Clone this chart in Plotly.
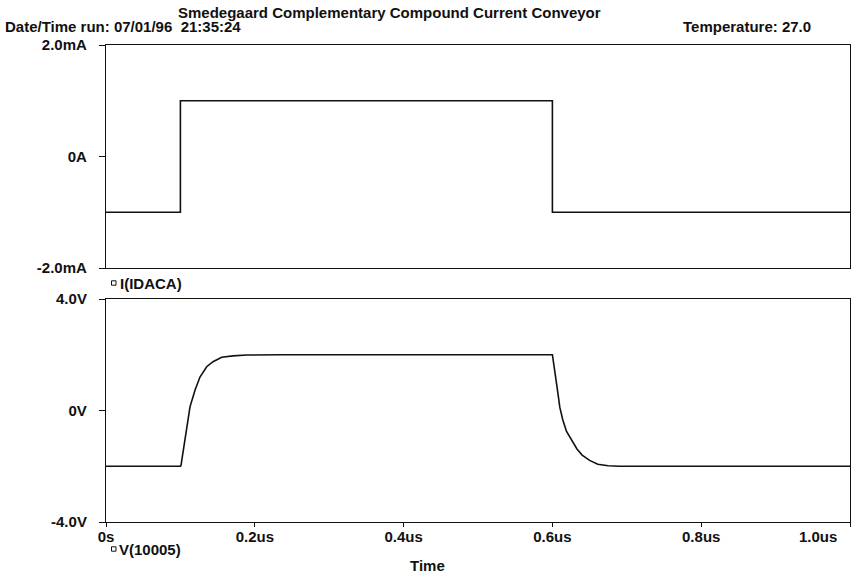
import plotly.graph_objects as go

# ---------------- data ----------------
# current source I(IDACA), mA, step shape (hv)
t_i = [0.0, 0.1, 0.6, 1.0]
i_ma = [-1.0, 1.0, -1.0, -1.0]

# output voltage V(10005)
t_v = [0.0, 0.100, 0.1008, 0.1062, 0.1129, 0.1196, 0.1263, 0.1353, 0.1438,
       0.1555, 0.1707, 0.189, 0.234, 0.600, 0.6035, 0.6065, 0.610, 0.614,
       0.619, 0.626, 0.633, 0.640, 0.650, 0.661, 0.675, 0.690, 1.0]
v_v = [-2.0, -2.0, -1.97, -0.95, 0.13, 0.73, 1.20, 1.57, 1.75,
       1.91, 1.96, 1.99, 2.0, 2.0, 1.43, 0.79, 0.11, -0.34,
       -0.75, -1.07, -1.38, -1.60, -1.79, -1.93, -1.98, -2.0, -2.0]

x_tick_vals = [0, 0.2, 0.4, 0.6, 0.8, 1.0]
x_tick_text = ["0s", "0.2us", "0.4us", "0.6us", "0.8us", "1.0us"]
i_tick_vals = [-2, 0, 2]
i_tick_text = ["-2.0mA", "0A", "2.0mA"]
v_tick_vals = [-4, 0, 4]
v_tick_text = ["-4.0V", "0V", "4.0V"]

title_text = "Smedegaard Complementary Compound Current Conveyor"
date_text = "Date/Time run: 07/01/96  21:35:24"
temp_text = "Temperature: 27.0"
trace_names = ["I(IDACA)", "V(10005)"]
x_title = "Time"

# ---------------- layout geometry ----------------
W, H = 855, 578
L, R, T, B = 106, 5, 45, 56
PW, PH = W - L - R, H - T - B


def px(x):
    return (x - L) / PW


def py(y):
    return (H - B - y) / PH


FONT = dict(family="Liberation Sans, Arial, sans-serif", size=15, color="#111111",
            weight="bold")
INK = "#111111"

fig = go.Figure()
fig.add_trace(go.Scatter(x=t_i, y=i_ma, mode="lines", line=dict(color=INK, width=1.6, shape="hv"),
                         xaxis="x", yaxis="y", name=trace_names[0], showlegend=False))
fig.add_trace(go.Scatter(x=t_v, y=v_v, mode="lines", line=dict(color=INK, width=1.6),
                         xaxis="x2", yaxis="y2", name=trace_names[1], showlegend=False))

axis_common = dict(showline=True, linecolor=INK, linewidth=1.2, mirror=True,
                   showgrid=False, zeroline=False, tickfont=FONT)

top_dom = [py(268), 1.0]
bot_dom = [0.0, py(299)]

x_text_shown = x_tick_text[:-1] + [""]

fig.update_layout(
    width=W, height=H,
    margin=dict(l=L, r=R, t=T, b=B),
    paper_bgcolor="white", plot_bgcolor="white",
    font=FONT,
    xaxis=dict(domain=[0, 1], range=[0, 1.0], anchor="y", showticklabels=False,
               ticks="", **axis_common),
    yaxis=dict(domain=top_dom, range=[-2, 2], anchor="x", tickmode="array",
               tickvals=i_tick_vals, ticktext=i_tick_text, ticks="outside",
               ticklen=6, tickcolor=INK, ticklabelstandoff=9, **axis_common),
    xaxis2=dict(domain=[0, 1], range=[0, 1.0], anchor="y2", matches="x",
                tickmode="array", tickvals=x_tick_vals, ticktext=x_text_shown,
                ticks="outside", ticklen=4, tickcolor=INK, ticklabelstandoff=-3,
                **axis_common),
    yaxis2=dict(domain=bot_dom, range=[-4, 4], anchor="x2", tickmode="array",
                tickvals=v_tick_vals, ticktext=v_tick_text, ticks="outside",
                ticklen=6, tickcolor=INK, ticklabelstandoff=9, **axis_common),
)

ann = []
ann.append(dict(text=title_text, x=px(176), y=py(12), xanchor="left", yanchor="middle"))
ann.append(dict(text=date_text, x=px(3), y=py(26), xanchor="left", yanchor="middle"))
ann.append(dict(text=temp_text, x=px(681), y=py(26), xanchor="left", yanchor="middle"))
ann.append(dict(text=trace_names[0], x=px(118), y=py(283), xanchor="left", yanchor="middle"))
ann.append(dict(text=trace_names[1], x=px(117), y=py(549), xanchor="left", yanchor="middle"))
ann.append(dict(text=x_title, x=px(427), y=py(565), xanchor="center", yanchor="middle"))
ann.append(dict(text=x_tick_text[-1], x=px(839), y=py(536), xanchor="right", yanchor="middle"))
for a in ann:
    a.update(xref="paper", yref="paper", showarrow=False, font=FONT)
fig.update_layout(annotations=ann)

# small hollow legend squares
for yc in (283, 549):
    fig.add_shape(type="rect", xref="paper", yref="paper",
                  x0=px(111.5), x1=px(116), y0=py(yc - 2.2), y1=py(yc + 2.2),
                  line=dict(color=INK, width=1), fillcolor="white")

fig.write_html("out.html")
